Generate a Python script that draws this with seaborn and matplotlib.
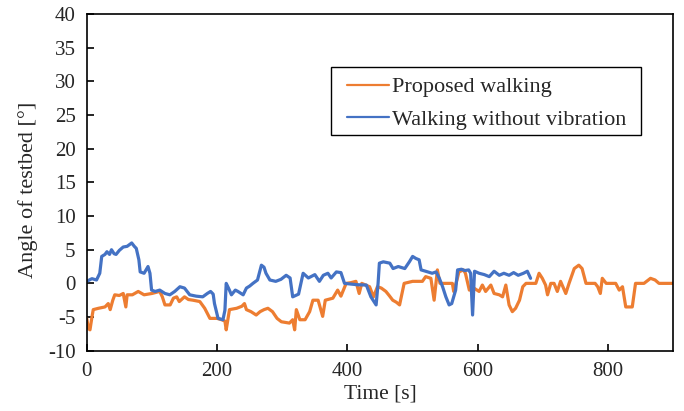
import numpy as np
import pandas as pd
import matplotlib
matplotlib.use("Agg")
import matplotlib.pyplot as plt
from matplotlib.patches import Rectangle
import seaborn as sns

# Tilt angle of the testbed over time, two walking conditions
time_proposed = [0, 2.5, 5, 8, 10, 18, 28, 33, 36, 40, 43, 50, 56, 60, 62, 70, 79, 88, 100, 112,
                 116, 120, 128, 133, 138, 142, 150, 156, 163, 173.5, 181, 189, 200, 207, 212, 214,
                 219, 230, 238, 242, 245, 252, 260, 266, 272, 278, 285, 292, 298.6, 311, 316, 319,
                 321.6, 327, 335, 342, 347, 355, 362, 366, 377.6, 385, 390, 398, 405, 413, 418, 422,
                 434, 440, 446, 452, 459, 464, 469.5, 475, 480, 487, 500, 515, 520, 528, 533, 538,
                 542, 561, 563, 568, 571, 578, 581, 587, 594, 602, 607, 612, 620, 625, 633, 638,
                 643, 648, 653, 658, 664, 669, 674, 689, 694, 699, 704, 707, 712, 717, 722, 727,
                 735, 740, 748, 755, 760, 766, 780, 784, 788, 791, 797, 811.6, 817, 822, 827, 837,
                 842, 855, 865, 872, 878, 900]
angle_proposed = [-5.2, -6.7, -6.9, -5.0, -3.9, -3.7, -3.5, -3.0, -3.9, -2.5, -1.7, -1.8, -1.5, -3.5,
                  -1.7, -1.7, -1.2, -1.7, -1.5, -1.2, -2.0, -3.2, -3.2, -2.2, -2.0, -2.7, -2.0, -2.4,
                  -2.5, -2.7, -3.7, -5.2, -5.2, -5.4, -5.6, -6.9, -3.9, -3.7, -3.4, -3.0, -3.9, -4.2,
                  -4.7, -4.2, -3.9, -3.7, -4.2, -5.2, -5.7, -5.9, -5.4, -6.9, -3.9, -5.4, -5.4, -4.2,
                  -2.5, -2.5, -4.9, -2.5, -2.2, -1.0, -1.9, 0.0, 0.1, 0.3, -1.5, 0.0, -0.5, -2.0,
                  -0.5, -0.7, -1.2, -1.8, -2.5, -2.8, -3.2, 0.0, 0.3, 0.3, 1.0, 0.75, -2.5, 2.0,
                  0.0, 0.0, -1.2, 0.5, 1.7, 2.0, 1.5, -1.0, -0.7, -1.2, -0.25, -1.2, -0.25, -1.5,
                  -1.7, -2.0, -0.25, -3.2, -4.2, -3.7, -2.5, -0.5, 0.0, 0.0, 1.5, 0.75, -0.25, -1.7,
                  0.0, 0.0, -1.2, 0.3, -1.5, 0.0, 2.2, 2.7, 2.2, 0.0, 0.0, -0.5, -1.5, 0.75, 0.0,
                  0.0, -1.0, -0.5, -3.5, -3.5, 0.0, 0.0, 0.75, 0.5, 0.0, 0.0]

time_no_vibration = [0, 8, 15, 20, 23, 28, 31, 35, 38, 42, 45, 50, 56, 62, 69, 73, 76, 80, 82, 88,
                     94, 97, 99.5, 105, 112, 120, 127.5, 135, 143, 150, 158, 168, 178, 185, 190, 194,
                     196, 201.5, 209, 212, 214, 218, 222, 228, 232, 240, 245, 250, 255, 262, 268, 272,
                     275, 281, 290, 298, 306, 312, 316, 325, 332, 340, 350, 357, 363, 370, 375, 383,
                     390, 395.5, 405, 415, 429, 436, 444, 447, 449, 455, 465, 470, 478, 488, 495, 500,
                     505, 510, 513, 520, 530, 536, 541, 546, 551, 556, 560, 566, 569, 575, 580, 586,
                     589, 592, 595, 602, 610, 617.6, 625, 633, 640, 648, 655, 662, 670, 676, 681]
angle_no_vibration = [0.3, 0.7, 0.5, 1.5, 4.0, 4.3, 4.7, 4.3, 5.0, 4.4, 4.3, 4.9, 5.4, 5.5, 6.0, 5.5,
                      5.2, 3.5, 1.7, 1.5, 2.5, 1.5, -1.0, -1.2, -1.0, -1.5, -1.7, -1.2, -0.5, -0.7,
                      -1.7, -1.9, -2.0, -1.5, -1.2, -1.6, -3.0, -5.2, -5.4, -4.0, 0.0, -0.8, -1.7,
                      -1.0, -1.2, -1.7, -0.7, -0.4, 0.0, 0.5, 2.7, 2.4, 1.5, 0.5, 0.3, 0.6, 1.2, 0.8,
                      -2.0, -1.6, 1.5, 0.8, 1.3, 0.3, 1.2, 1.5, 0.8, 1.7, 1.6, 0.0, -0.1, -0.2, -0.25,
                      -2.0, -3.2, 0.0, 3.0, 3.2, 3.0, 2.2, 2.5, 2.2, 3.2, 4.0, 3.7, 3.5, 2.0, 1.8, 1.5,
                      1.7, 0.75, -0.5, -2.0, -3.2, -3.0, -1.0, 2.0, 2.1, 1.9, 2.0, 1.5, -4.7, 1.8, 1.5,
                      1.3, 1.0, 1.8, 1.2, 1.5, 1.2, 1.6, 1.2, 1.5, 1.8, 0.75]

label_proposed = "Proposed walking"
label_no_vibration = "Walking without vibration"
x_ticks = [0, 200, 400, 600, 800]
y_ticks = [-10, -5, 0, 5, 10, 15, 20, 25, 30, 35, 40]

ORANGE = "#ED7D31"
BLUE = "#4472C4"

sns.set_theme(style="white")
plt.rcParams["font.family"] = ["Liberation Serif", "DejaVu Serif"]

fig = plt.figure(figsize=(6.84, 4.11), dpi=100)
ax = fig.add_axes([0.1268, 0.1467, 0.8576, 0.8192])

df_p = pd.DataFrame({"t": time_proposed, "angle": angle_proposed})
df_b = pd.DataFrame({"t": time_no_vibration, "angle": angle_no_vibration})

sns.lineplot(data=df_p, x="t", y="angle", ax=ax, color=ORANGE, lw=2.3,
             estimator=None, sort=False, label=label_proposed)
sns.lineplot(data=df_b, x="t", y="angle", ax=ax, color=BLUE, lw=2.3,
             estimator=None, sort=False, label=label_no_vibration)

ax.set_xlim(0, 900)
ax.set_ylim(-10, 40)
ax.set_xticks(x_ticks)
ax.set_yticks(y_ticks)
ax.set_xticklabels([str(v) for v in x_ticks], fontsize=15)
ax.set_yticklabels([str(v) for v in y_ticks], fontsize=15)
ax.tick_params(axis="both", direction="in", length=5, width=1.2, color="black",
               bottom=True, left=True, top=False, right=False, pad=8)

for side in ["left", "bottom", "top", "right"]:
    ax.spines[side].set_visible(True)
    ax.spines[side].set_color("black")
    ax.spines[side].set_linewidth(1.2)

ax.set_xlabel("Time [s]", fontsize=15.5, labelpad=3)
ax.set_ylabel("Angle of testbed [°]", fontsize=16)
ax.yaxis.set_label_coords(-0.083, 0.477)

# Legend entries without their own frame; a wider box is drawn around them
leg = ax.legend(loc="upper left", bbox_to_anchor=(0.4284, 0.8396), fontsize=16,
                frameon=False, handlelength=1.9, handletextpad=0.12,
                labelspacing=0.52, borderpad=0.4, borderaxespad=0)
for handle in leg.get_lines():
    handle.set_linewidth(1.6)

ax.add_patch(Rectangle((0.4165, 0.6406), 0.9449 - 0.4165, 0.8435 - 0.6406,
                       transform=ax.transAxes, fill=True, facecolor="white",
                       edgecolor="black", linewidth=1.0, zorder=4))
leg.set_zorder(5)

fig.savefig("out.png", dpi=100)
